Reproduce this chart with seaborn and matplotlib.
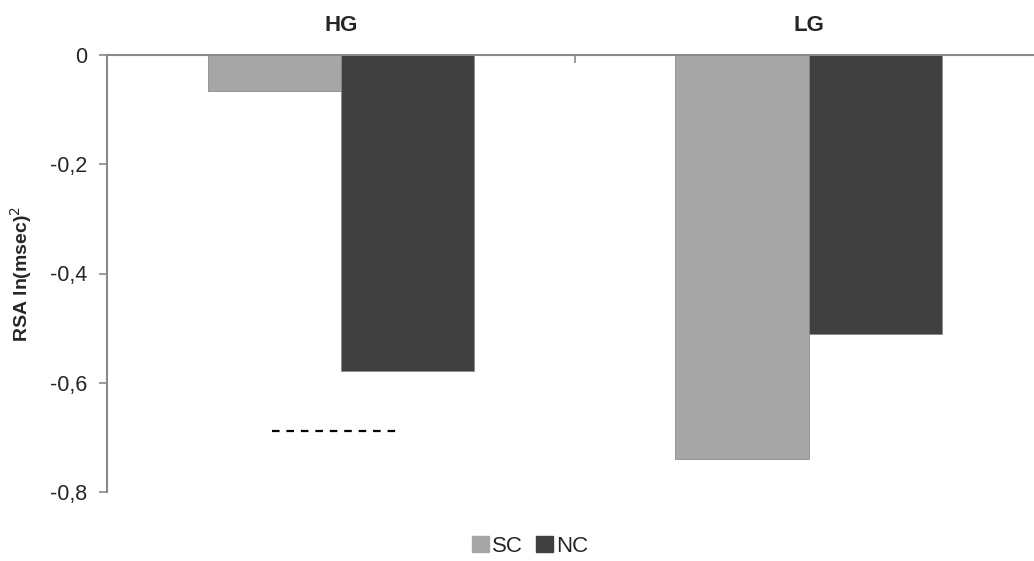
import matplotlib
matplotlib.use("Agg")
import matplotlib.pyplot as plt
import matplotlib.ticker as mticker
import seaborn as sns
import pandas as pd

# ---- data ----
groups = ["HG", "LG"]
conditions = ["SC", "NC"]
sc_values = [-0.066, -0.740]
nc_values = [-0.579, -0.511]
reference_level = -0.689   # dashed line under HG
y_ticks = [0, -0.2, -0.4, -0.6, -0.8]

rows = []
for g, s, n in zip(groups, sc_values, nc_values):
    rows.append({"group": g, "cond": "SC", "value": s})
    rows.append({"group": g, "cond": "NC", "value": n})
df = pd.DataFrame(rows)

sns.set_theme(style="white")
plt.rcParams["font.family"] = ["Liberation Sans", "DejaVu Sans"]

fig = plt.figure(figsize=(10.34, 5.61), dpi=100)
ax = fig.add_axes([107 / 1034, 1 - 492 / 561, 1 - 107 / 1034, (492 - 55) / 561])

palette = {"SC": "#a6a6a6", "NC": "#404040"}
sns.barplot(data=df, x="group", y="value", hue="cond", order=groups,
            hue_order=conditions, palette=palette, width=0.57,
            saturation=1, edgecolor="#8c8c8c", linewidth=0.6, ax=ax,
            legend=True)

ax.hlines(reference_level, -0.148, 0.131, colors="black",
          linestyles=(0, (3.4, 3.1)), linewidth=1.6)

ax.set_ylim(-0.8, 0)
ax.set_xlim(-0.5, 1.482)
ax.set_yticks(y_ticks)
ax.yaxis.set_major_formatter(mticker.FuncFormatter(
    lambda v, p: "0" if abs(v) < 1e-9 else f"{v:.1f}".replace(".", ",")))

for side in ["right", "bottom"]:
    ax.spines[side].set_visible(False)
for side in ["left", "top"]:
    ax.spines[side].set_color("#8a8a8a")
    ax.spines[side].set_linewidth(1.5)

ax.xaxis.set_ticks_position("top")
ax.xaxis.set_label_position("top")
ax.set_xticks([0, 1])
ax.set_xticklabels(groups, fontsize=16, fontweight="bold")
ax.tick_params(axis="x", which="major", length=0, pad=14)
ax.set_xticks([0.5], minor=True)
ax.tick_params(axis="x", which="minor", direction="in", length=6,
               width=1.2, color="#8a8a8a", top=True)
ax.tick_params(axis="y", direction="out", length=6, width=1.2,
               color="#8a8a8a", left=True, labelsize=15.5, pad=8)
ax.set_xlabel("")
ax.set_ylabel("RSA ln(msec)$^2$", fontsize=14, fontweight="bold", labelpad=12)

ax.get_legend().remove()
handles = [plt.Rectangle((0, 0), 1, 1, color=palette[c]) for c in conditions]
fig.legend(handles, conditions, loc="center", bbox_to_anchor=(530 / 1034, 1 - 546 / 561),
           ncol=2, frameon=False, fontsize=16, handlelength=0.75, handleheight=0.75,
           handletextpad=0.15, columnspacing=0.6)

fig.savefig("out.png", dpi=100)
